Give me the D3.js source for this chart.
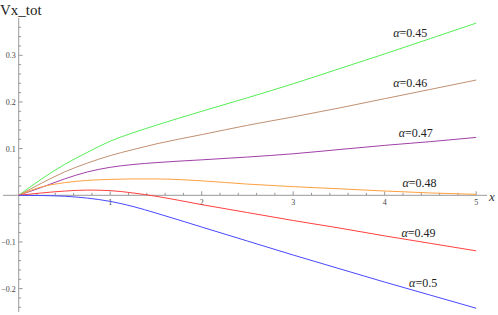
<!DOCTYPE html>
<html>
<head>
<meta charset="utf-8">
<script src="https://cdn.jsdelivr.net/npm/d3@7"></script>
<style>
    body { margin: 0; background: #fff; }
    svg { display: block; }
    text { font-family: "Liberation Serif", "DejaVu Serif", serif; }
</style>
</head>
<body>
<div id="chart"></div>
<script>
(function () {
    'use strict';

    // sample points along x
    var xs = [0, 0.25, 0.5, 0.75, 1, 1.25, 1.5, 2, 2.5, 3, 3.5, 4, 4.5, 5];

    var alphas = ['0.45', '0.46', '0.47', '0.48', '0.49', '0.5'];

    var v045 = [0, 0.035, 0.066, 0.092, 0.116, 0.134, 0.150, 0.180, 0.209, 0.239, 0.271, 0.303, 0.336, 0.369];
    var v046 = [0, 0.026, 0.050, 0.069, 0.085, 0.098, 0.110, 0.130, 0.150, 0.168, 0.187, 0.207, 0.227, 0.247];
    var v047 = [0, 0.017, 0.035, 0.050, 0.060, 0.066, 0.070, 0.076, 0.082, 0.089, 0.098, 0.107, 0.115, 0.124];
    var v048 = [0, 0.018, 0.027, 0.032, 0.034, 0.035, 0.035, 0.031, 0.024, 0.0185, 0.014, 0.0092, 0.005, 0.002];
    var v049 = [0, 0.005, 0.009, 0.0112, 0.010, 0.005, -0.002, -0.020, -0.037, -0.054, -0.070, -0.087, -0.103, -0.119];
    var v050 = [0, -0.0005, -0.002, -0.006, -0.013, -0.024, -0.038, -0.068, -0.098, -0.128, -0.157, -0.186, -0.214, -0.242];

    var seriesValues = [v045, v046, v047, v048, v049, v050];

    var xTicks = [1, 2, 3, 4, 5];
    var yTicks = [-0.2, -0.1, 0.1, 0.2, 0.3];

    var colors = ['#55ee55', '#c09070', '#a040a8', '#ffa040', '#ff4040', '#4848ff'];
    // label anchors in data units
    var labelPos = [[4.28, 0.348], [4.28, 0.241], [4.34, 0.134], [4.38, 0.026], [4.37, -0.081], [4.42, -0.188]];

    var width = 498, height = 315;

    var x = d3.scaleLinear().domain([0, 5]).range([18.7, 476.2]);
    var y = d3.scaleLinear().domain([0, 0.3]).range([195.3, 55.3]);

    var svg = d3.select('#chart').append('svg')
        .attr('width', width)
        .attr('height', height);

    var axisColor = '#999';

    // x axis
    var gx = svg.append('g').attr('class', 'x-axis');
    gx.append('line')
        .attr('x1', 3).attr('x2', 487)
        .attr('y1', y(0)).attr('y2', y(0))
        .attr('stroke', axisColor).attr('stroke-width', 1);

    var xMinor = d3.range(1, 26).map(function (i) { return i * 0.2; });
    gx.selectAll('line.minor')
        .data(xMinor)
        .enter().append('line')
        .attr('class', 'minor')
        .attr('x1', function (d) { return x(d); })
        .attr('x2', function (d) { return x(d); })
        .attr('y1', y(0))
        .attr('y2', function (d) { return y(0) - (Math.abs(d - Math.round(d)) < 1e-6 ? 4 : 2.5); })
        .attr('stroke', axisColor);

    gx.selectAll('text')
        .data(xTicks)
        .enter().append('text')
        .attr('x', function (d) { return x(d); })
        .attr('y', y(0) + 10)
        .attr('text-anchor', 'middle')
        .style('font-size', '8px')
        .style('fill', '#444')
        .text(function (d) { return d; });

    svg.append('text')
        .attr('x', 489)
        .attr('y', y(0) + 6)
        .style('font-size', '13px')
        .style('font-style', 'italic')
        .style('fill', '#333')
        .text('x');

    // y axis
    var gy = svg.append('g').attr('class', 'y-axis');
    gy.append('line')
        .attr('x1', x(0)).attr('x2', x(0))
        .attr('y1', y(0.38)).attr('y2', y(-0.25))
        .attr('stroke', axisColor).attr('stroke-width', 1);

    var yMinor = d3.range(-12, 19).map(function (i) { return i * 0.02; })
        .filter(function (d) { return Math.abs(d) > 1e-6; });
    gy.selectAll('line.minor')
        .data(yMinor)
        .enter().append('line')
        .attr('class', 'minor')
        .attr('y1', function (d) { return y(d); })
        .attr('y2', function (d) { return y(d); })
        .attr('x1', x(0))
        .attr('x2', function (d) {
            var m = Math.abs(d * 10 - Math.round(d * 10)) < 1e-6;
            return x(0) + (m ? 4 : 2.5);
        })
        .attr('stroke', axisColor);

    gy.selectAll('text')
        .data(yTicks)
        .enter().append('text')
        .attr('x', x(0) - 3)
        .attr('y', function (d) { return y(d) + 3; })
        .attr('text-anchor', 'end')
        .style('font-size', '8px')
        .style('fill', '#444')
        .text(function (d) { return d < 0 ? '\u2212' + d3.format('.1f')(-d) : d3.format('.1f')(d); });

    svg.append('text')
        .attr('x', 0)
        .attr('y', 15)
        .style('font-size', '15px')
        .style('fill', '#222')
        .text('Vx_tot');

    // curves
    var line = d3.line()
        .x(function (d) { return x(d[0]); })
        .y(function (d) { return y(d[1]); })
        .curve(d3.curveMonotoneX);

    seriesValues.forEach(function (vals, i) {
        var pts = xs.map(function (xv, j) { return [xv, vals[j]]; });
        svg.append('path')
            .datum(pts)
            .attr('d', line)
            .attr('fill', 'none')
            .attr('stroke', colors[i])
            .attr('stroke-width', 1);
    });

    // labels
    var labels = svg.append('g').attr('class', 'labels');
    alphas.forEach(function (a, i) {
        var t = labels.append('text')
            .attr('x', x(labelPos[i][0]))
            .attr('y', y(labelPos[i][1]) + 4)
            .attr('text-anchor', 'middle')
            .style('font-size', '12px')
            .style('fill', '#222');
        t.append('tspan').style('font-style', 'italic').text('\u03b1');
        t.append('tspan').text('=' + a);
    });

})();
</script>
</body>
</html>
